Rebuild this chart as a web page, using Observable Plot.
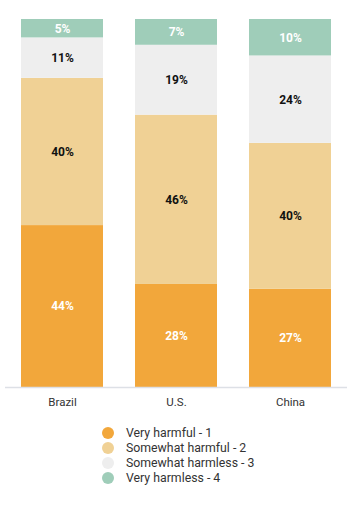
<!DOCTYPE html>
<html>
<head>
<meta charset="utf-8">
<script src="https://cdn.jsdelivr.net/npm/d3@7"></script>
<script src="https://cdn.jsdelivr.net/npm/@observablehq/plot@0.6"></script>
<style>
  html, body { margin: 0; padding: 0; background: #fff; }
  body { font-family: Roboto, "Noto Sans", sans-serif; width: 360px; }
  #legend { margin-top: 10px; margin-left: 102px; }
  .item { display: flex; align-items: center; height: 15px; font-size: 12.3px; color: #333; }
  .dot { width: 12px; height: 12px; border-radius: 50%; margin-right: 12px; flex: none; }
</style>
</head>
<body>
<div id="chart"></div>
<div id="legend"></div>
<script>
const countries = ["Brazil", "U.S.", "China"];
const categories = ["Very harmful - 1", "Somewhat harmful - 2", "Somewhat harmless - 3", "Very harmless - 4"];
const colors = ["#F2A73B", "#F0D195", "#EEEEEE", "#9FCDB9"];
const whiteLabel = [true, false, false, true];
const brazil = [44, 40, 11, 5];
const us = [28, 46, 19, 7];
const china = [27, 40, 24, 10];

const seriesByCountry = [brazil, us, china];
const data = [];
countries.forEach((c, i) => {
  categories.forEach((cat, j) => {
    data.push({country: c, category: cat, value: seriesByCountry[i][j], idx: j});
  });
});

const stackOpts = {x: "country", y: "value", z: "category", order: categories, offset: "normalize"};

const plot = Plot.plot({
  width: 360,
  height: 415,
  marginTop: 19,
  marginBottom: 28,
  marginLeft: 5,
  marginRight: 13,
  style: {fontFamily: "Roboto, 'Noto Sans', sans-serif", background: "#fff"},
  x: {domain: countries, paddingInner: 0.28, paddingOuter: 0.14, label: null},
  y: {axis: null},
  color: {domain: categories, range: colors},
  marks: [
    Plot.barY(data, Plot.stackY({...stackOpts, fill: "category"})),
    Plot.ruleY([0], {stroke: "#dde0e6", strokeWidth: 1.5}),
    Plot.text(data, Plot.stackY({...stackOpts, text: d => whiteLabel[d.idx] ? d.value + "%" : "", fill: "#ffffff", fontSize: 12, fontWeight: "bold"})),
    Plot.text(data, Plot.stackY({...stackOpts, text: d => whiteLabel[d.idx] ? "" : d.value + "%", fill: "#111111", fontSize: 12, fontWeight: "bold"})),
    Plot.axisX({tickSize: 0, tickPadding: 10, fontSize: 11.5, color: "#333", label: null})
  ]
});
document.getElementById("chart").appendChild(plot);

const legend = document.getElementById("legend");
categories.forEach((cat, j) => {
  const item = document.createElement("div");
  item.className = "item";
  const dot = document.createElement("span");
  dot.className = "dot";
  dot.style.background = colors[j];
  const label = document.createElement("span");
  label.textContent = cat;
  item.appendChild(dot);
  item.appendChild(label);
  legend.appendChild(item);
});
</script>
</body>
</html>
